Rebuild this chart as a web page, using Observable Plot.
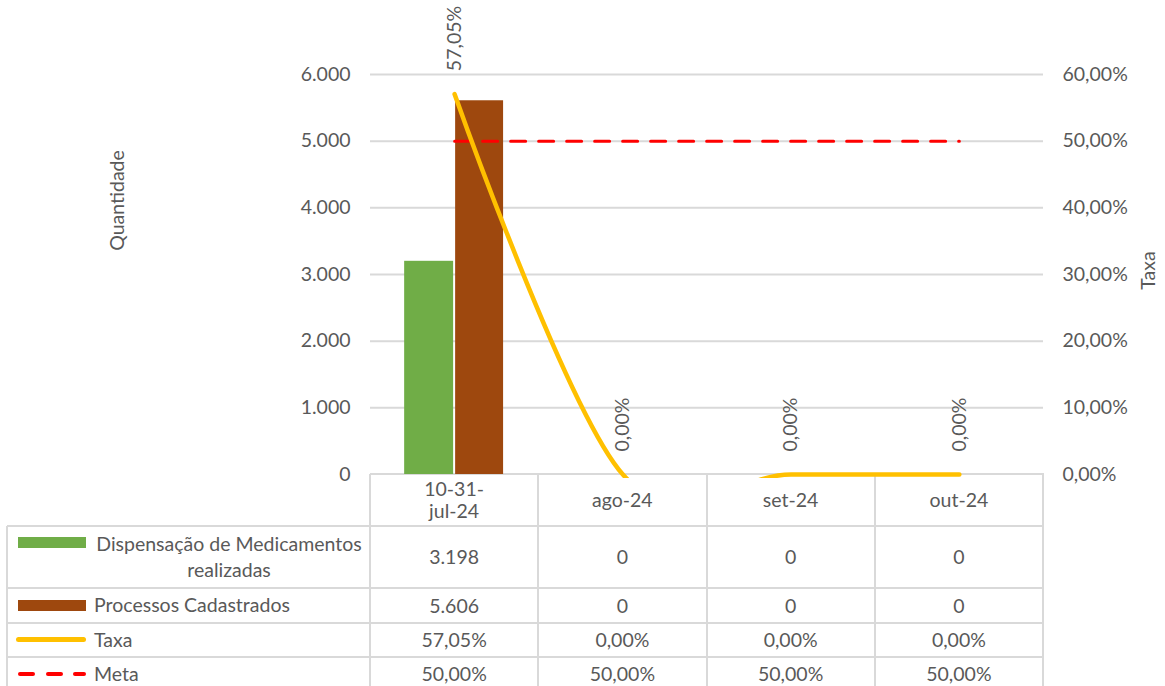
<!DOCTYPE html>
<html><head><meta charset="utf-8">
<script src="https://cdn.jsdelivr.net/npm/d3@7"></script>
<script src="https://cdn.jsdelivr.net/npm/@observablehq/plot@0.6"></script>
<style>
body{margin:0;background:#fff;font-family:Lato, "Open Sans", sans-serif;}
#wrap{position:relative;width:1165px;height:686px;overflow:hidden;background:#fff;}
#chart{position:absolute;left:0;top:0;z-index:2;}
#table{position:absolute;left:0;top:0;z-index:1;}
.t{position:absolute;color:#595959;font-size:19.5px;line-height:26px;font-family:Lato, sans-serif;white-space:nowrap;}
.c{display:flex;align-items:center;justify-content:center;text-align:center;}
.w{white-space:normal;}
.hl{position:absolute;height:2px;background:#D9D9D9;}
.vl{position:absolute;width:2px;background:#D9D9D9;}
</style></head>
<body><div id="wrap"><div id="table"></div><div id="chart"></div></div>
<script>
const categories = ["10-31-jul-24", "ago-24", "set-24", "out-24"];
const seriesNames = ["Dispensação de Medicamentos realizadas", "Processos Cadastrados", "Taxa", "Meta"];
const dispensacao = [3198, 0, 0, 0];
const processos = [5606, 0, 0, 0];
const taxa = [0.5705, 0, 0, 0];
const meta = [0.5, 0.5, 0.5, 0.5];
const leftTicks = [0, 1000, 2000, 3000, 4000, 5000, 6000];
const rightTicks = [0, 0.1, 0.2, 0.3, 0.4, 0.5, 0.6];
const axisTitles = ["Quantidade", "Taxa"];

const K = 10000; // right axis (rate) mapped onto left axis units: 60% <-> 6000
const fmtInt = d => d3.format(",")(d).replace(/,/g, ".");
const fmtPct = d => (d * 100).toFixed(2).replace(".", ",") + "%";
const rows = categories.map((c, i) => ({i, c, d: dispensacao[i], p: processos[i], t: taxa[i], m: meta[i]}));

const chart = Plot.plot({
  width: 1165, height: 486,
  marginLeft: 370, marginRight: 122, marginTop: 74, marginBottom: 12,
  style: {fontFamily: "Lato, sans-serif", fontSize: "19.5px", color: "#595959", background: "transparent", overflow: "visible"},
  x: {domain: [-0.5, 3.5], axis: null},
  y: {domain: [0, 6000], axis: null},
  marks: [
    Plot.gridY(leftTicks.slice(1), {stroke: "#D9D9D9", strokeOpacity: 1, strokeWidth: 2}),
    Plot.axisY(leftTicks, {anchor: "left", tickSize: 0, tickPadding: 20, tickFormat: fmtInt, label: null}),
    Plot.axisY(rightTicks.map(v => v * K), {anchor: "right", tickSize: 0, tickPadding: 19, tickFormat: d => fmtPct(d / K), label: null}),
    Plot.rect(rows.filter(r => r.d > 0), {x1: r => r.i - 0.297, x2: r => r.i - 0.006, y1: () => 0, y2: "d", fill: "#70AD47"}),
    Plot.rect(rows.filter(r => r.p > 0), {x1: r => r.i + 0.006, x2: r => r.i + 0.291, y1: () => 0, y2: "p", fill: "#9E480E"}),
    Plot.line(rows, {x: "i", y: r => r.m * K, stroke: "#FF0000", strokeWidth: 3, strokeDasharray: "15,13"}),
    Plot.line(rows, {x: "i", y: r => r.t * K, stroke: "#FFC000", strokeWidth: 4.5, curve: "cardinal", clip: true, strokeLinecap: "round"}),
    Plot.text(rows, {x: "i", y: r => r.t * K, text: r => fmtPct(r.t), rotate: -90, textAnchor: "start", dy: -23, fill: "#595959"}),
    Plot.text([axisTitles[0]], {frameAnchor: "top-left", dx: -253, dy: 126, rotate: -90, textAnchor: "middle", lineAnchor: "middle", fill: "#595959"}),
    Plot.text([axisTitles[1]], {frameAnchor: "top-right", dx: 105, dy: 196, rotate: -90, textAnchor: "middle", lineAnchor: "middle", fill: "#595959"})
  ]
});
// Excel's plot area clips a few pixels below the zero line
chart.querySelectorAll("clipPath rect").forEach(r => {
  const h = +r.getAttribute("height");
  if (h) r.setAttribute("height", h + 4);
});
document.getElementById("chart").appendChild(chart);

// data table below the plot, aligned with the plot's x scale
const xs = chart.scale("x");
const colX = [-0.5, 0.5, 1.5, 2.5, 3.5].map(v => xs.apply(v));
const left = 7;
const rowY = [474, 526, 588, 623, 657, 700];
const tb = document.getElementById("table");
function add(cls, style, html) {
  const el = document.createElement("div");
  el.className = cls;
  Object.assign(el.style, style);
  if (html !== undefined) el.innerHTML = html;
  tb.appendChild(el);
  return el;
}
// header cells
categories.forEach((c, i) => {
  add("t c w", {left: colX[i] + "px", top: rowY[0] + "px", width: (colX[i + 1] - colX[i]) + "px", height: (rowY[1] - rowY[0]) + "px", lineHeight: "22px"},
      `<span style="max-width:64px;display:inline-block">${c}</span>`);
});
const values = [dispensacao.map(fmtInt), processos.map(fmtInt), taxa.map(fmtPct), meta.map(fmtPct)];
values.forEach((vals, r) => {
  vals.forEach((v, i) => {
    add("t c", {left: colX[i] + "px", top: rowY[r + 1] + "px", width: (colX[i + 1] - colX[i]) + "px", height: Math.min(rowY[r + 2], 690) - rowY[r + 1] + "px"}, v);
  });
});
// legend keys
add("", {position: "absolute", left: "18px", top: "537px", width: "68px", height: "11px", background: "#70AD47"});
add("t c w", {left: "92px", top: "526px", width: "274px", height: "62px", lineHeight: "26px"}, seriesNames[0]);
add("", {position: "absolute", left: "18px", top: "600px", width: "68px", height: "11px", background: "#9E480E"});
add("t", {left: "94px", top: "592px"}, seriesNames[1]);
add("", {position: "absolute", left: "16px", top: "637px", width: "70px", height: "5px", borderRadius: "3px", background: "#FFC000"});
add("t", {left: "94px", top: "627px"}, seriesNames[2]);
[18, 46, 73].forEach(x => add("", {position: "absolute", left: x + "px", top: "672px", width: (x === 73 ? 13 : 17) + "px", height: "4px", borderRadius: "2px", background: "#FF0000"}));
add("t", {left: "94px", top: "661px"}, seriesNames[3]);
// grid lines of the table
add("hl", {left: colX[0] + "px", top: (rowY[0] - 1) + "px", width: (colX[4] - colX[0] + 1) + "px"});
rowY.slice(1, 5).forEach(y => add("hl", {left: left + "px", top: (y - 1) + "px", width: (colX[4] - left + 1) + "px"}));
add("vl", {left: (left - 1) + "px", top: rowY[1] + "px", height: "170px"});
colX.forEach(x => add("vl", {left: (x - 1) + "px", top: rowY[0] + "px", height: "220px"}));
</script>
</body></html>
